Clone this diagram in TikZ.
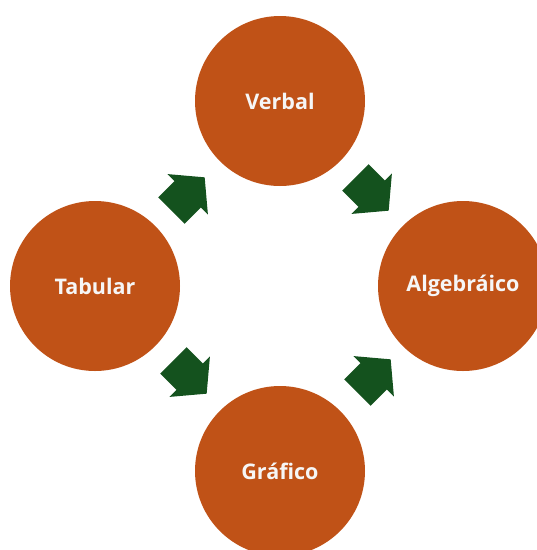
\documentclass[tikz,border=0pt]{standalone}
\usepackage{fontspec}
\setmainfont{Open Sans}[Ligatures=NoCommon]
\usetikzlibrary{shapes.arrows}
\definecolor{rust}{RGB}{192,82,23}
\definecolor{leaf}{RGB}{20,82,30}
\definecolor{paper}{RGB}{246,246,246}
\begin{document}
\begin{tikzpicture}[x=1pt,y=-1pt,
  bubble/.style={circle,fill=rust,minimum size=170pt,inner sep=0pt,
    text=paper,font=\fontsize{21.5}{26}\selectfont\bfseries},
  blockarrow/.style={single arrow,fill=leaf,draw=none,minimum height=47pt,
    minimum width=57pt,single arrow head extend=10pt,single arrow tip angle=100,
    inner xsep=0pt,inner ysep=18.5pt}]
\useasboundingbox (0,0) rectangle (537,550);
\node[bubble] (verbal) at (280,101) {Verbal};
\node[bubble] (tabular) at (95,286) {Tabular};
\node[bubble] (alg) at (463,286) {Algebráico};
\node[bubble] (graf) at (280,471) {Gráf{}ico};
\node[blockarrow,rotate=45] (a1) at (182.5,199.5) {};
\node[blockarrow,rotate=-45] (a2) at (366.5,188.5) {};
\node[blockarrow,rotate=-45] (a3) at (184.5,371.5) {};
\node[blockarrow,rotate=45] (a4) at (368.5,381.5) {};
\end{tikzpicture}
\end{document}
